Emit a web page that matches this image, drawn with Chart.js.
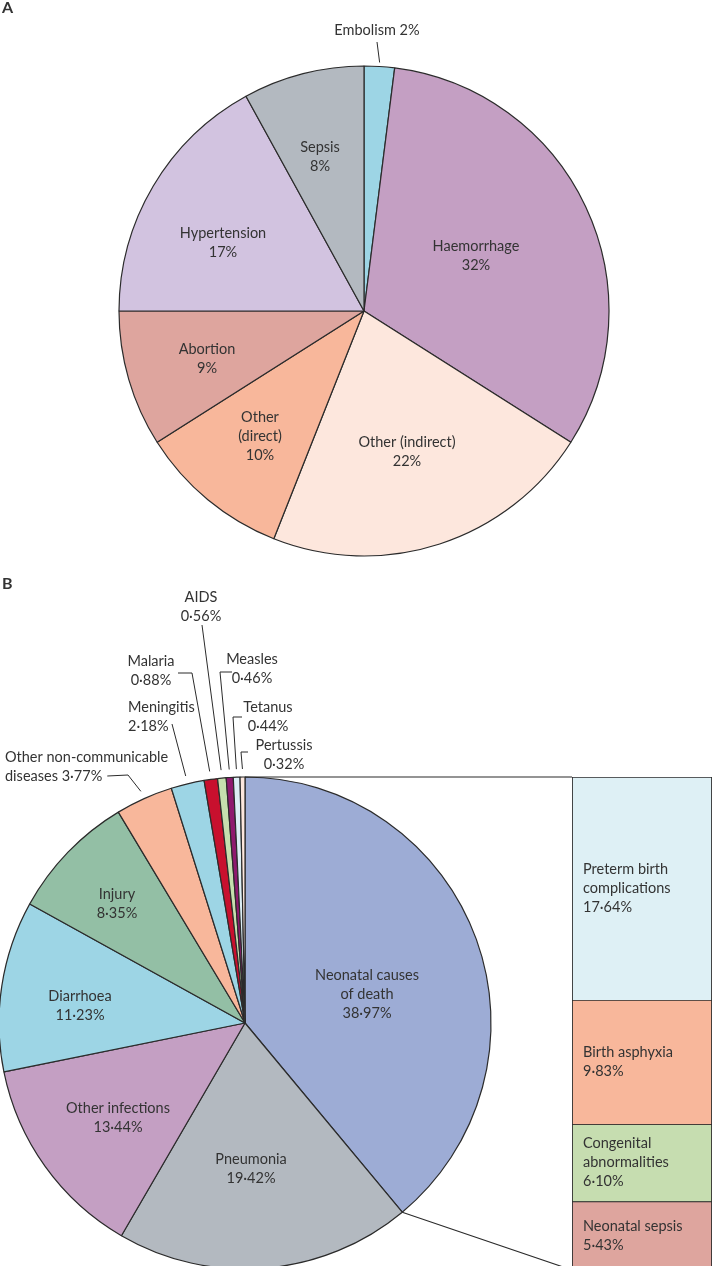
<!DOCTYPE html>
<html>
<head>
<meta charset="utf-8">
<script src="https://cdn.jsdelivr.net/npm/chart.js@4.4.1/dist/chart.umd.min.js"></script>
<style>
  body { margin: 0; background: #fff; }
  #wrap { position: relative; width: 713px; height: 1266px; overflow: hidden; background: #fff; }
  canvas { position: absolute; }
</style>
</head>
<body>
<div id="wrap">
  <canvas id="pieA" width="713" height="560" style="left:0;top:0"></canvas>
  <canvas id="pieB" width="713" height="706" style="left:0;top:560px"></canvas>
  <canvas id="bar" width="142" height="494" style="left:571px;top:776px"></canvas>
</div>
<script>
// A: maternal deaths
const causesA = ['Embolism', 'Haemorrhage', 'Other (indirect)', 'Other (direct)', 'Abortion', 'Hypertension', 'Sepsis'];
const sharesA = [2, 32, 22, 10, 9, 17, 8];

// B: child deaths
const causesB = ['Neonatal causes of death', 'Pneumonia', 'Other infections', 'Diarrhoea', 'Injury',
  'Other non-communicable diseases', 'Meningitis', 'Malaria', 'AIDS', 'Measles', 'Tetanus', 'Pertussis'];
const sharesB = [38.97, 19.42, 13.44, 11.23, 8.35, 3.77, 2.18, 0.88, 0.56, 0.46, 0.44, 0.32];

// breakdown of neonatal causes
const neonatalCauses = ['Preterm birth complications', 'Birth asphyxia', 'Congenital abnormalities', 'Neonatal sepsis'];
const neonatalShares = [17.64, 9.83, 6.10, 5.43];

const coloursA = ['#9dd5e5', '#c49fc3', '#fde7dd', '#f8b79b', '#dea59e', '#d2c3e0', '#b3b9c0'];
const coloursB = ['#9dacd5', '#b3b9c0', '#c49fc3', '#9dd5e5', '#93bfa5', '#f8b79b', '#9dd5e5',
  '#c8102e', '#c6dfae', '#8e1a6e', '#dceef5', '#fde7dd'];
const coloursBar = ['#def0f5', '#f8b79b', '#c6ddb0', '#dea59e'];

const FONT = '14.5px Lato';
const TEXT = '#333';
const EDGE = '#2b2b2b';
const LINE_H = 19;

// where the bar of neonatal causes sits on the page
const BAR_LEFT = 572, BAR_TOP = 777, BAR_BOTTOM = 1270, PIE_B_TOP = 560;

// label placement (canvas coords), first line centre
const labelPosA = [
  { x: 377, y: 30, inline: true, leader: [[377, 42]] },
  { x: 476, y: 246 },
  { x: 407, y: 442 },
  { x: 260, y: 417, brk: 1 },
  { x: 207, y: 349 },
  { x: 223, y: 233 },
  { x: 320, y: 147 }
];
const labelPosB = [
  { x: 367, y: 415, brk: 2 },
  { x: 251, y: 599 },
  { x: 118, y: 548 },
  { x: 80, y: 436 },
  { x: 117, y: 334 },
  { x: 5, y: 197, align: 'left', brk: 2, tail: true, afterText: true, leader: [[128, 215]] },
  { x: 128, y: 147, align: 'left', leader: [[172, 164]] },
  { x: 151, y: 101, leader: [[178, 113], [192, 113]] },
  { x: 201, y: 37, leader: [[202, 65]] },
  { x: 252, y: 99, leader: [[232, 112], [220, 112]] },
  { x: 268, y: 147, leader: [[242, 157], [233, 157]] },
  { x: 284, y: 185, leader: [[248, 192], [241, 192]] }
];

function pct(v, digits) {
  return v.toFixed(digits).replace('.', '\u00b7') + '%';
}

function buildLines(name, p, pos) {
  if (pos.inline) return [name + ' ' + p];
  if (!pos.brk) return [name, p];
  const words = name.split(' ');
  const head = words.slice(0, pos.brk).join(' ');
  const rest = words.slice(pos.brk).join(' ');
  return pos.tail ? [head, rest + ' ' + p] : [head, rest, p];
}

function drawLines(ctx, lines, x, y, align) {
  ctx.textAlign = align || 'center';
  ctx.textBaseline = 'middle';
  lines.forEach((t, k) => ctx.fillText(t, x, y + k * LINE_H));
}

function arcPoint(arc, angle, r) {
  return [arc.x + Math.cos(angle) * r, arc.y + Math.sin(angle) * r];
}

function pieLabels(names, values, digits, layout, gap, letter) {
  return {
    id: 'pieLabels',
    afterDatasetsDraw(chart) {
      const ctx = chart.ctx;
      const arcs = chart.getDatasetMeta(0).data;
      ctx.save();
      ctx.fillStyle = TEXT;
      ctx.font = 'bold 16px Lato';
      ctx.textAlign = 'left';
      ctx.textBaseline = 'middle';
      ctx.fillText(letter.text, letter.x, letter.y);
      ctx.font = FONT;
      names.forEach((name, i) => {
        const pos = layout[i];
        const lines = buildLines(name, pct(values[i], digits), pos);
        drawLines(ctx, lines, pos.x, pos.y, pos.align);
        if (pos.leader) {
          const arc = arcs[i];
          const mid = (arc.startAngle + arc.endAngle) / 2;
          const end = arcPoint(arc, mid, arc.outerRadius + gap);
          const pts = pos.leader.slice();
          if (pos.afterText) {
            // leader starts just after the last text line
            const last = lines[lines.length - 1];
            pts.unshift([pos.x + ctx.measureText(last).width + 5, pos.y + (lines.length - 1) * LINE_H]);
          }
          ctx.beginPath();
          ctx.strokeStyle = EDGE;
          ctx.lineWidth = 1;
          pts.forEach((p, k) => k ? ctx.lineTo(p[0], p[1]) : ctx.moveTo(p[0], p[1]));
          ctx.lineTo(end[0], end[1]);
          ctx.stroke();
        }
      });
      ctx.restore();
    }
  };
}

// lines from the neonatal slice out to the bar
const connectors = {
  id: 'connectors',
  afterDatasetsDraw(chart) {
    const ctx = chart.ctx;
    const arc = chart.getDatasetMeta(0).data[0];
    const a = arcPoint(arc, arc.startAngle, arc.outerRadius);
    const b = arcPoint(arc, arc.endAngle, arc.outerRadius);
    ctx.save();
    ctx.strokeStyle = EDGE;
    ctx.lineWidth = 1.1;
    ctx.beginPath();
    ctx.moveTo(a[0], a[1]);
    ctx.lineTo(BAR_LEFT, BAR_TOP - PIE_B_TOP);
    ctx.moveTo(b[0], b[1]);
    ctx.lineTo(BAR_LEFT, BAR_BOTTOM - PIE_B_TOP);
    ctx.stroke();
    ctx.restore();
  }
};

const barLabels = {
  id: 'barLabels',
  afterDatasetsDraw(chart) {
    const ctx = chart.ctx;
    ctx.save();
    ctx.fillStyle = TEXT;
    ctx.font = FONT;
    neonatalCauses.forEach((name, i) => {
      const el = chart.getDatasetMeta(i).data[0];
      const lines = buildLines(name, pct(neonatalShares[i], 2), { brk: i === 0 ? 2 : (i === 2 ? 1 : 0) });
      const cy = (el.y + el.base) / 2 - (lines.length - 1) * LINE_H / 2;
      drawLines(ctx, lines, chart.chartArea.left + 11, cy, 'left');
    });
    ctx.restore();
  }
};

function pieConfig(names, values, colours, radius, padding, plugins) {
  return {
    type: 'pie',
    data: {
      labels: names,
      datasets: [{
        data: values,
        backgroundColor: colours,
        borderColor: EDGE,
        borderWidth: 1.2,
        clip: false
      }]
    },
    options: {
      responsive: false,
      animation: false,
      devicePixelRatio: 1,
      radius: radius,
      layout: { padding: padding },
      plugins: { legend: { display: false }, tooltip: { enabled: false } }
    },
    plugins: plugins
  };
}

function build() {
  new Chart(document.getElementById('pieA'), pieConfig(causesA, sharesA, coloursA, 245,
    { left: 15, right: 0, top: 62, bottom: 0 },
    [pieLabels(causesA, sharesA, 0, labelPosA, 4, { text: 'A', x: 2, y: 8 })]));

  new Chart(document.getElementById('pieB'), pieConfig(causesB, sharesB, coloursB, 246,
    { left: 0, right: 223, top: 220, bottom: 0 },
    [connectors, pieLabels(causesB, sharesB, 2, labelPosB, 8, { text: 'B', x: 2, y: 24 })]));

  const total = neonatalShares.reduce((s, v) => s + v, 0);
  new Chart(document.getElementById('bar'), {
    type: 'bar',
    data: {
      labels: ['Neonatal causes of death'],
      datasets: neonatalCauses.map((name, i) => ({
        label: name,
        data: [neonatalShares[i]],
        backgroundColor: coloursBar[i],
        borderColor: EDGE,
        borderWidth: { top: 1.2, left: 1.2, right: 1.2, bottom: 0 },
        borderSkipped: false,
        barPercentage: 1,
        categoryPercentage: 1
      }))
    },
    options: {
      responsive: false,
      animation: false,
      devicePixelRatio: 1,
      layout: { padding: { left: 1, right: 1, top: 1, bottom: 0 } },
      scales: {
        x: { stacked: true, display: false },
        y: { stacked: true, display: false, reverse: true, min: 0, max: total }
      },
      plugins: { legend: { display: false }, tooltip: { enabled: false } }
    },
    plugins: [barLabels]
  });
}

if (document.fonts && document.fonts.load) {
  Promise.all([document.fonts.load(FONT), document.fonts.load('bold 16px Lato')]).then(build, build);
} else {
  build();
}
</script>
</body>
</html>
